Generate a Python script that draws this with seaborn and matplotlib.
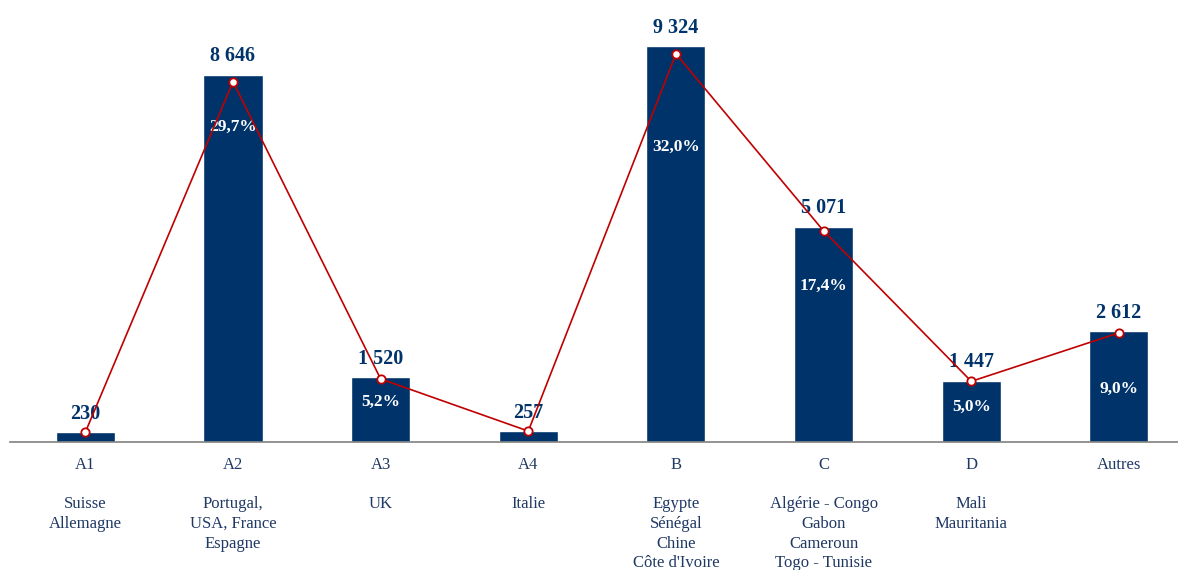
import numpy as np
import pandas as pd
import seaborn as sns
import matplotlib.pyplot as plt

sns.set_style('white')
plt.rcParams['font.family'] = ['Liberation Serif', 'DejaVu Serif']

# data
codes = ['A1', 'A2', 'A3', 'A4', 'B', 'C', 'D', 'Autres']
pays = ['Suisse\nAllemagne', 'Portugal,\nUSA, France\nEspagne', 'UK', 'Italie',
        "Egypte\nSénégal\nChine\nCôte d'Ivoire",
        'Algérie - Congo\nGabon\nCameroun\nTogo - Tunisie',
        'Mali\nMauritania', '']
valeurs = [230, 8646, 1520, 257, 9324, 5071, 1447, 2612]
parts = [0.8, 29.7, 5.2, 0.9, 32.0, 17.4, 5.0, 9.0]
parts_txt = ['', '29,7%', '5,2%', '', '32,0%', '17,4%', '5,0%', '9,0%']
# heights (in value units) where the % labels sit inside the bars
parts_y = [0, 7420, 940, 0, 6950, 3670, 820, 1250]

navy = '#00336A'
red = '#C00000'

df = pd.DataFrame({'code': codes, 'val': valeurs, 'pct': parts})
df['label'] = [c + '\n\n' + p for c, p in zip(codes, pays)]
df['pos'] = np.arange(len(df))

fig = plt.figure(figsize=(11.78, 5.70), dpi=100)
ax = fig.add_axes([10 / 1178, 128 / 570, 1168 / 1178, 442 / 570])

sns.barplot(data=df, x='label', y='val', color=navy, width=0.40,
            saturation=1, ax=ax)
ax.set_ylim(0, 10407)
ax.set_xlim(-0.51, 7.4)

for i, v in enumerate(valeurs):
    ax.annotate(f'{v:,}'.replace(',', ' '), (i, v), xytext=(0, 6),
                textcoords='offset points', ha='center', va='bottom',
                fontsize=14.5, fontweight='bold', color=navy)
    if parts_txt[i]:
        ax.text(i, parts_y[i], parts_txt[i], ha='center', va='center',
                fontsize=12.5, fontweight='bold', color='white', zorder=5)

ax2 = ax.twinx()
sns.lineplot(data=df, x='pos', y='pct', color=red, lw=1.2, marker='o',
             markersize=6, markerfacecolor='white', markeredgecolor=red,
             markeredgewidth=1.3, ax=ax2)
ax2.set_ylim(0, 36.44)
ax2.set_xlim(-0.51, 7.4)

for a in (ax, ax2):
    a.set_xlabel('')
    a.set_ylabel('')
    a.set_yticks([])
    for s in ['top', 'right', 'left']:
        a.spines[s].set_visible(False)
ax2.spines['bottom'].set_visible(False)
ax.spines['bottom'].set_color('#808080')
ax.spines['bottom'].set_linewidth(1.2)

ax.tick_params(axis='x', length=0, pad=11, labelsize=12, labelcolor='#1F3864')
for t in ax.get_xticklabels():
    t.set_verticalalignment('top')
    t.set_linespacing(1.3)

fig.savefig('out.png', dpi=100)
